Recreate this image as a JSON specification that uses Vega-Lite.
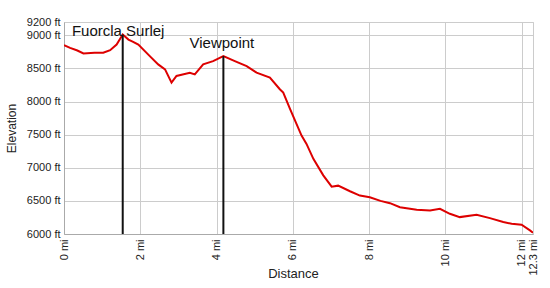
{
  "$schema": "https://vega.github.io/schema/vega-lite/v6.json",
  "width": 469,
  "height": 212,
  "autosize": {"type": "none"},
  "padding": {"left": 64, "top": 22, "right": 17, "bottom": 54},
  "background": "white",
  "config": {
    "view": {"stroke": "#cccccc", "strokeWidth": 1},
    "font": "Liberation Sans",
    "axis": {
      "labelFontSize": 11,
      "labelColor": "#222222",
      "labelOverlap": false,
      "labelFlush": false,
      "ticks": false,
      "domainColor": "#aaaaaa",
      "gridColor": "#cccccc",
      "grid": true,
      "titleFontWeight": "normal",
      "titleColor": "#222222"
    }
  },
  "datasets": {
    "profile": [
      {"mi": 0.00, "elev": 8850},
      {"mi": 0.16, "elev": 8810},
      {"mi": 0.35, "elev": 8770},
      {"mi": 0.51, "elev": 8725},
      {"mi": 0.80, "elev": 8735},
      {"mi": 1.03, "elev": 8735},
      {"mi": 1.21, "elev": 8775},
      {"mi": 1.38, "elev": 8860},
      {"mi": 1.54, "elev": 9010},
      {"mi": 1.69, "elev": 8935},
      {"mi": 1.80, "elev": 8905},
      {"mi": 1.95, "elev": 8860},
      {"mi": 2.25, "elev": 8685},
      {"mi": 2.47, "elev": 8560},
      {"mi": 2.65, "elev": 8485},
      {"mi": 2.82, "elev": 8285},
      {"mi": 2.95, "elev": 8385},
      {"mi": 3.30, "elev": 8435},
      {"mi": 3.43, "elev": 8410},
      {"mi": 3.65, "elev": 8560},
      {"mi": 3.91, "elev": 8610},
      {"mi": 4.18, "elev": 8685},
      {"mi": 4.48, "elev": 8610},
      {"mi": 4.79, "elev": 8535},
      {"mi": 5.05, "elev": 8435},
      {"mi": 5.40, "elev": 8360},
      {"mi": 5.66, "elev": 8185},
      {"mi": 5.75, "elev": 8135},
      {"mi": 5.93, "elev": 7885},
      {"mi": 6.23, "elev": 7485},
      {"mi": 6.36, "elev": 7360},
      {"mi": 6.54, "elev": 7135},
      {"mi": 6.80, "elev": 6885},
      {"mi": 7.02, "elev": 6715},
      {"mi": 7.19, "elev": 6730},
      {"mi": 7.50, "elev": 6645},
      {"mi": 7.76, "elev": 6580},
      {"mi": 8.02, "elev": 6555},
      {"mi": 8.30, "elev": 6500},
      {"mi": 8.55, "elev": 6465},
      {"mi": 8.81, "elev": 6405},
      {"mi": 9.25, "elev": 6365},
      {"mi": 9.60, "elev": 6355},
      {"mi": 9.86, "elev": 6380},
      {"mi": 10.12, "elev": 6305},
      {"mi": 10.38, "elev": 6255},
      {"mi": 10.82, "elev": 6290},
      {"mi": 11.17, "elev": 6240},
      {"mi": 11.52, "elev": 6180},
      {"mi": 11.74, "elev": 6155},
      {"mi": 12.00, "elev": 6140},
      {"mi": 12.22, "elev": 6055},
      {"mi": 12.30, "elev": 6020}
    ],
    "landmarks": [
      {"name": "Fuorcla Surlej", "mi": 1.54, "elev": 9010, "label_mi": 1.42, "label_elev": 8985},
      {"name": "Viewpoint", "mi": 4.18, "elev": 8685, "label_mi": 4.14, "label_elev": 8805}
    ]
  },
  "layer": [
    {
      "data": {"name": "profile"},
      "mark": {"type": "line", "color": "#dd0000", "strokeWidth": 2, "clip": true},
      "encoding": {
        "x": {
          "field": "mi", "type": "quantitative",
          "scale": {"domain": [0, 12.3], "nice": false, "zero": false},
          "axis": {
            "title": "Distance",
            "values": [0, 2, 4, 6, 8, 10, 12, 12.3],
            "labelExpr": "datum.value + ' mi'",
            "labelAngle": -90,
            "labelPadding": 5,
            "titleFontSize": 13,
            "titleX": 229,
            "titleY": 43,
            "titleBaseline": "alphabetic",
            "titleAlign": "center"
          }
        },
        "y": {
          "field": "elev", "type": "quantitative",
          "scale": {"domain": [6000, 9200], "nice": false, "zero": false},
          "axis": {
            "title": "Elevation",
            "values": [6000, 6500, 7000, 7500, 8000, 8500, 9000, 9200],
            "labelExpr": "datum.value + ' ft'",
            "labelPadding": 4,
            "titleFontSize": 12,
            "titlePadding": 8
          }
        }
      }
    },
    {
      "data": {"name": "landmarks"},
      "mark": {"type": "rule", "color": "#111111", "strokeWidth": 2},
      "encoding": {
        "x": {
          "field": "mi", "type": "quantitative",
          "axis": {
            "title": "Distance",
            "values": [0, 2, 4, 6, 8, 10, 12, 12.3],
            "labelExpr": "datum.value + ' mi'",
            "labelAngle": -90,
            "labelPadding": 5,
            "titleFontSize": 13,
            "titleX": 229,
            "titleY": 43,
            "titleBaseline": "alphabetic",
            "titleAlign": "center"
          }
        },
        "y": {
          "field": "elev", "type": "quantitative",
          "axis": {
            "title": "Elevation",
            "values": [6000, 6500, 7000, 7500, 8000, 8500, 9000, 9200],
            "labelExpr": "datum.value + ' ft'",
            "labelPadding": 4,
            "titleFontSize": 12,
            "titlePadding": 8
          }
        },
        "y2": {"datum": 6000}
      }
    },
    {
      "data": {"name": "landmarks"},
      "mark": {"type": "text", "fontSize": 15, "color": "#111111", "align": "center", "baseline": "alphabetic"},
      "encoding": {
        "x": {
          "field": "label_mi", "type": "quantitative",
          "axis": {
            "title": "Distance",
            "values": [0, 2, 4, 6, 8, 10, 12, 12.3],
            "labelExpr": "datum.value + ' mi'",
            "labelAngle": -90,
            "labelPadding": 5,
            "titleFontSize": 13,
            "titleX": 229,
            "titleY": 43,
            "titleBaseline": "alphabetic",
            "titleAlign": "center"
          }
        },
        "y": {
          "field": "label_elev", "type": "quantitative",
          "axis": {
            "title": "Elevation",
            "values": [6000, 6500, 7000, 7500, 8000, 8500, 9000, 9200],
            "labelExpr": "datum.value + ' ft'",
            "labelPadding": 4,
            "titleFontSize": 12,
            "titlePadding": 8
          }
        },
        "text": {"field": "name"}
      }
    }
  ]
}
